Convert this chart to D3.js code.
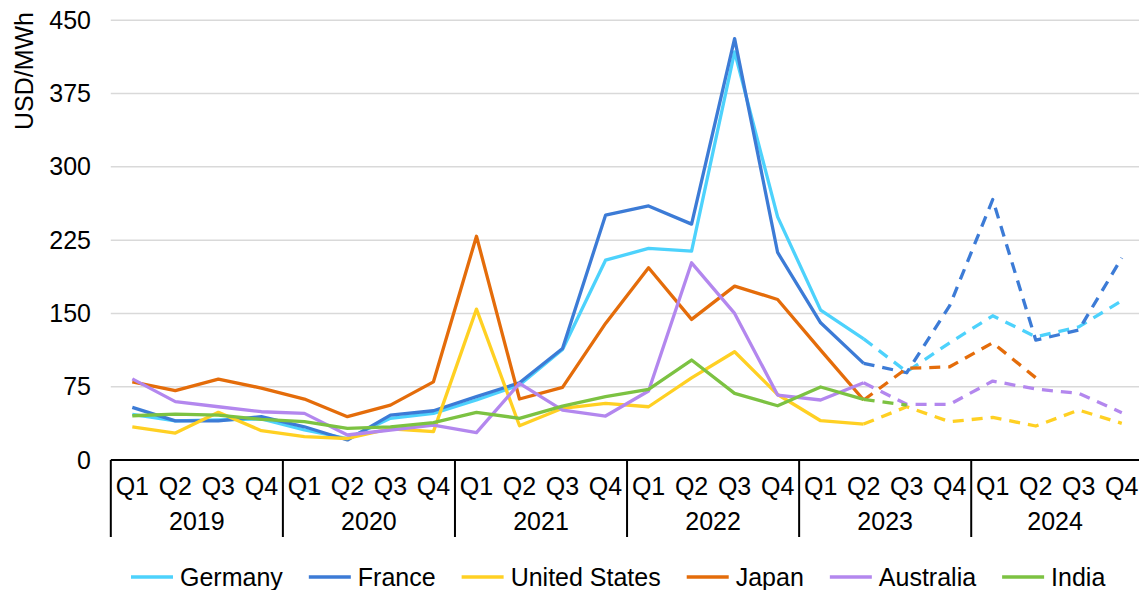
<!DOCTYPE html>
<html>
<head>
<meta charset="utf-8">
<script src="https://cdn.jsdelivr.net/npm/d3@7"></script>
<style>
  html, body { margin: 0; padding: 0; background: #fff; }
  svg text { font-family: "Liberation Sans", Arial, sans-serif; fill: #000; }
</style>
</head>
<body>
<svg id="chart" width="1139" height="590"></svg>
<script>
const years = ['2019', '2020', '2021', '2022', '2023', '2024']
const quarters = ['Q1', 'Q2', 'Q3', 'Q4']
const yTicks = [0, 75, 150, 225, 300, 375, 450]

// first period drawn dashed (estimates / forwards)
const forecastFrom = '2023 Q2'

const germany = [46.7, 40, 41, 42, 30.7, 22, 42.6, 47.7, 61.4, 76.7, 113, 204.5, 216.5, 213.7, 417.6, 248.8, 153.4, 124, 90.3, 120, 147.6, 126.1, 136.3, 163]
const france = [53.9, 40, 40, 44.3, 34, 20.5, 46, 50.4, 64.8, 79, 114.2, 250.6, 260, 241.4, 431.3, 212.4, 140.4, 98.9, 89.3, 158, 266.6, 122.7, 133, 206.9]
const unitedStates = [34, 27.6, 48.8, 30, 23.9, 22, 32, 29, 154.4, 35.1, 52.9, 58, 54.5, 84, 110.8, 67, 40.2, 36.8, 54.5, 39.2, 43.6, 34.8, 51.1, 37.5]
const japan = [80, 71, 82.8, 73.6, 62.4, 44.3, 56.2, 80, 229, 62.4, 74.3, 139.8, 196.7, 143.9, 178, 164.3, 112.5, 61.4, 93.8, 95.4, 120, 84.2, null, null]
const australia = [83, 59.7, 54.5, 49.4, 47.7, 25.6, 30.7, 35.8, 28, 78.4, 51.1, 45, 70.6, 201.8, 150, 66.5, 61.4, 79, 57, 57, 80.8, 72.6, 68.2, 48.4]
const india = [45.3, 47, 46, 41.6, 39.2, 32.4, 34, 38.2, 48.8, 42.6, 55.2, 64.8, 72.3, 102.3, 68.2, 55.5, 74.7, 62, 56.2, null, null, null, null, null]

const seriesNames = ['Germany', 'France', 'United States', 'Japan', 'Australia', 'India']
const seriesValues = [germany, france, unitedStates, japan, australia, india]
const seriesColors = ['#4DD2FC', '#3C7BD6', '#FFD023', '#E46C0A', '#B387EE', '#7CC242']

const periods = years.flatMap(y => quarters.map(q => y + ' ' + q))
const series = seriesNames.map((name, i) => ({
  name,
  color: seriesColors[i],
  points: seriesValues[i].map((v, j) => ({ period: periods[j], value: v }))
}))

const W = 1139
const fontSize = '25px'
const lineW = 3.3
const svg = d3.select('#chart')

const x = d3.scaleBand().domain(periods).range([110.8, 1143.3])
const y = d3.scaleLinear().domain([0, 450]).range([460, 20.3])
const cx = p => x(p) + x.bandwidth() / 2

// gridlines
svg.append('g').selectAll('line').data(yTicks.filter(t => t > 0)).enter().append('line')
    .attr('x1', x.range()[0]).attr('x2', W)
    .attr('y1', d => y(d)).attr('y2', d => y(d))
    .attr('stroke', '#d9d9d9').attr('stroke-width', 1.5)

// y axis labels
const yAxis = svg.append('g').attr('transform', 'translate(91,0)')
    .call(d3.axisLeft(y).tickValues(yTicks).tickSize(0).tickPadding(0))
yAxis.select('.domain').remove()
yAxis.selectAll('text').style('font-size', fontSize).attr('fill', '#000')
    .attr('font-family', '"Liberation Sans", Arial, sans-serif')

svg.append('text')
    .attr('transform', 'translate(33,12) rotate(-90)')
    .attr('text-anchor', 'end')
    .style('font-size', fontSize)
    .text('USD/MWh')

// lines, solid up to forecastFrom then dashed
const line = d3.line()
    .defined(d => d.value != null)
    .x(d => cx(d.period))
    .y(d => y(d.value))

const lines = svg.append('g')
series.forEach(s => {
  const cut = periods.indexOf(forecastFrom)
  lines.append('path')
      .datum(s.points.slice(0, cut + 1))
      .attr('d', line)
      .attr('fill', 'none').attr('stroke', s.color)
      .attr('stroke-width', lineW).attr('stroke-linejoin', 'round')
  lines.append('path')
      .datum(s.points.slice(cut))
      .attr('d', line)
      .attr('fill', 'none').attr('stroke', s.color)
      .attr('stroke-width', lineW).attr('stroke-linejoin', 'round')
      .attr('stroke-dasharray', '11,8')
})

// category axis: quarters row + years row with separators
const axisG = svg.append('g')
axisG.append('line')
    .attr('x1', x.range()[0]).attr('x2', W)
    .attr('y1', 460).attr('y2', 460)
    .attr('stroke', '#000').attr('stroke-width', 2)

axisG.selectAll('.qlab').data(periods).enter().append('text')
    .attr('class', 'qlab')
    .attr('x', d => cx(d)).attr('y', 495)
    .attr('text-anchor', 'middle')
    .style('font-size', fontSize)
    .text(d => d.split(' ')[1])

const yearStart = yr => x(yr + ' Q1')
const yearEnd = yr => x(yr + ' Q4') + x.bandwidth()

axisG.selectAll('.ysep').data(years).enter().append('line')
    .attr('x1', d => yearStart(d)).attr('x2', d => yearStart(d))
    .attr('y1', 460).attr('y2', 537)
    .attr('stroke', '#000').attr('stroke-width', 2)

axisG.selectAll('.ylab').data(years).enter().append('text')
    .attr('class', 'ylab')
    .attr('x', d => (yearStart(d) + Math.min(yearEnd(d), W)) / 2).attr('y', 530)
    .attr('text-anchor', 'middle')
    .style('font-size', fontSize)
    .text(d => d)

// legend
const legend = svg.append('g').attr('transform', 'translate(131,577)')
let lx = 0
series.forEach(s => {
  const item = legend.append('g').attr('transform', 'translate(' + lx + ',0)')
  item.append('line')
      .attr('x1', 0).attr('x2', 42).attr('y1', 0).attr('y2', 0)
      .attr('stroke', s.color).attr('stroke-width', lineW)
  const t = item.append('text')
      .attr('x', 49).attr('y', 8.8)
      .style('font-size', fontSize)
      .text(s.name)
  lx += 49 + t.node().getComputedTextLength() + 26
})
</script>
</body>
</html>
